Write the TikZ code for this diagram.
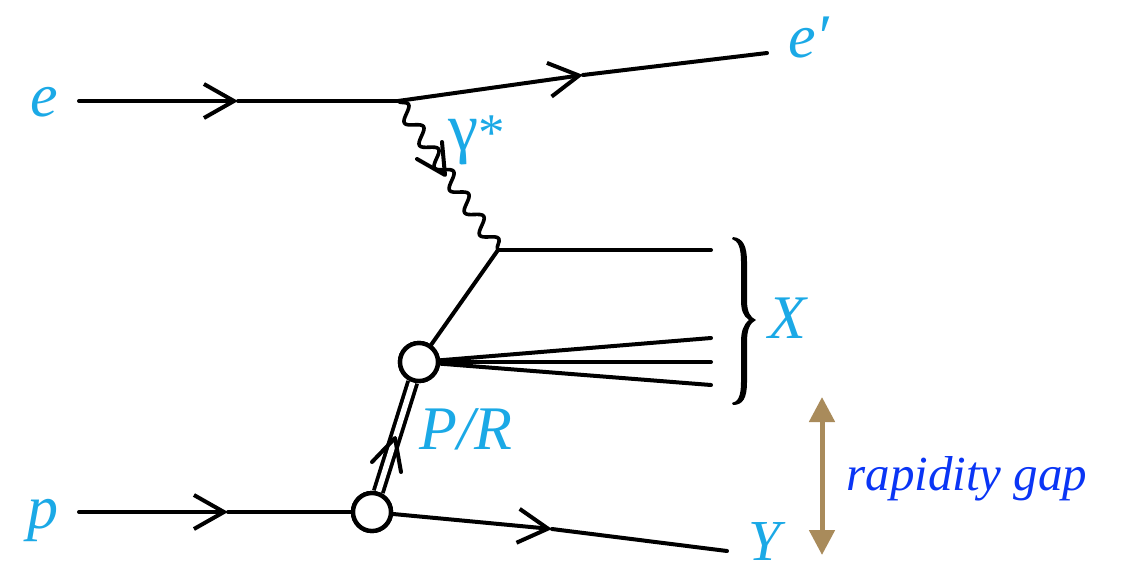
\documentclass[tikz,border=0pt]{standalone}
\usepackage{fontspec}
\setmainfont{Liberation Serif}
\usetikzlibrary{arrows.meta,decorations.pathmorphing}
\definecolor{labcyan}{HTML}{1BA9E6}
\definecolor{gapblue}{HTML}{0A35F5}
\definecolor{gold}{HTML}{A98B5B}
\tikzset{
  x=1pt,y=-1pt,
  fermion/.style={line width=4pt,line cap=round,line join=round},
  openarrow/.style={fermion,-{Straight Barb[length=30pt,width=34pt,line width=4pt]}},
  blob/.style={circle,draw,fill=white,line width=4.4pt,minimum size=38pt,inner sep=0pt},
  lab/.style={text=labcyan,font=\fontsize{62}{62}\selectfont\itshape,inner sep=0pt},
}
\begin{document}
\begin{tikzpicture}
\useasboundingbox (0,0) rectangle (1121,566);
% vertices and ends
\coordinate (estart) at (79,101);
\coordinate (etip) at (238,101);
\coordinate (v1) at (398,101);
\coordinate (eptip) at (583,75);
\coordinate (epend) at (767,53);
\coordinate (v2) at (498,250);
\coordinate (x1) at (711,250);
\coordinate (x2) at (711,338);
\coordinate (x3) at (711,362);
\coordinate (x4) at (711,385);
\coordinate (pstart) at (79,512);
\coordinate (ptip) at (228,512);
\coordinate (ytip) at (552,529);
\coordinate (yend) at (727,551);
\coordinate (gtip) at (445,175);
\coordinate (gb1) at (417,159);
\coordinate (gb2) at (442,142);
\coordinate (ptp) at (395,438);
\coordinate (pb1) at (372,462);
\coordinate (pb2) at (401,472);
\coordinate (gaptop) at (822,397);
\coordinate (gapbot) at (822,555);
\node[blob] (c1) at (419,362) {};
\node[blob] (c2) at (372,512) {};
% connectors
\draw[openarrow] (estart) -- (etip);
\draw[fermion] (etip) -- (v1);
\draw[openarrow] (v1) -- (eptip);
\draw[fermion] (eptip) -- (epend);
\draw[fermion,decorate,decoration={snake,segment length=27pt,amplitude=7pt},line width=3.6pt] (v1) -- (v2);
\draw[fermion] (gb1) -- (gtip) -- (gb2);
\draw[fermion] (v2) -- (x1);
\draw[fermion] (v2) -- (c1);
\draw[fermion] (c1) -- (x2);
\draw[fermion] (c1) -- (x3);
\draw[fermion] (c1) -- (x4);
\draw[openarrow] (pstart) -- (ptip);
\draw[fermion] (ptip) -- (c2);
\draw[openarrow] (c2) -- (ytip);
\draw[fermion] (ytip) -- (yend);
\draw[double=white,double distance=5.5pt,line width=3.8pt] (c2) -- (c1);
\draw[fermion] (pb1) -- (ptp) -- (pb2);
\node[blob] at (c1) {};
\node[blob] at (c2) {};
% brace
\fill[black] (733,237)
  .. controls (743,238) and (747,246) .. (747,262)
  -- (747,300)
  .. controls (747,312) and (750,317) .. (756,320)
  .. controls (750,323) and (747,329) .. (747,342)
  -- (747,382)
  .. controls (747,398) and (743,405) .. (733,405)
  -- (732,403)
  .. controls (738,402) and (741,396) .. (741,382)
  -- (741,342)
  .. controls (741,332) and (743,325) .. (749,320)
  .. controls (743,316) and (741,310) .. (741,300)
  -- (741,262)
  .. controls (741,247) and (738,241) .. (732,239) -- cycle;
% gap arrow
\draw[gold,line width=5pt,{Triangle[length=25pt,width=25pt]}-{Triangle[length=25pt,width=25pt]}] (gaptop) -- (gapbot);
% labels
\node[lab] (le) at (44,102) {e};
\node[lab] (lep) at (809,37) {e′};
\node[lab] (lp) at (43,520) {p};
\node[lab,font=\fontsize{53}{53}\selectfont] (lg) at (477,140) {{\fontsize{68}{68}\selectfont γ}*};
\node[lab] (lx) at (787,318) {X};
\node[lab,font=\fontsize{58}{58}\selectfont\itshape] (ly) at (765,541) {Y};
\node[lab] (lpr) at (466,429) {P/R};
\node[text=gapblue,font=\fontsize{49}{49}\selectfont\itshape,inner sep=0pt] (lgap) at (967,479) {rapidity gap};
\end{tikzpicture}
\end{document}
